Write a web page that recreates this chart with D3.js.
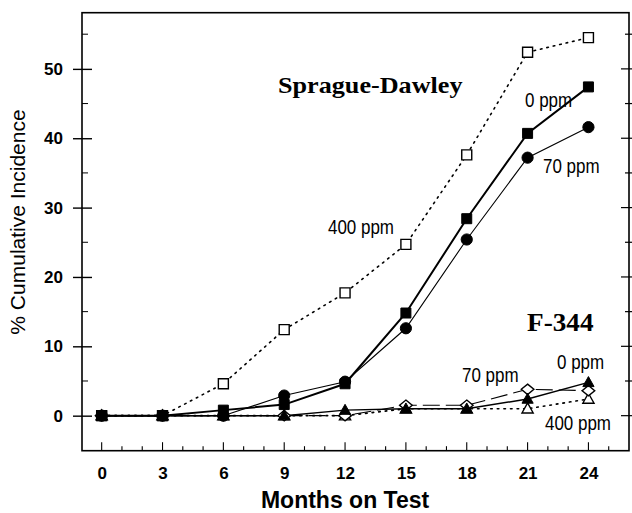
<!DOCTYPE html>
<html><head><meta charset="utf-8">
<script src="https://cdn.jsdelivr.net/npm/d3@7"></script>
<style>html,body{margin:0;padding:0;background:#fff;}svg{display:block;}</style>
</head><body>
<script>
// ---- data ----
const months = [0, 3, 6, 9, 12, 15, 18, 21, 24];
const sd0ppm   = [0, 0, 0.8, 1.6, 4.6, 14.8, 28.4, 40.7, 47.4];
const sd70ppm  = [0, 0, 0, 2.9, 4.9, 12.6, 25.4, 37.2, 41.6];
const sd400ppm = [0, 0, 4.6, 12.4, 17.7, 24.7, 37.6, 52.4, 54.5];
const f0ppm    = [0, 0, 0, 0, 0.8, 1.0, 1.0, 2.4, 4.8];
const f70ppm   = [0, 0, 0, 0, 0, 1.5, 1.5, 3.8, 3.6];
const f400ppm  = [0, 0, 0, 0, 0, 1.0, 1.0, 1.0, 2.4];
const yTickValues = [0, 10, 20, 30, 40, 50];
const xTickValues = [0, 3, 6, 9, 12, 15, 18, 21, 24];

const W = 632, H = 513;
const svg = d3.select("body").append("svg").attr("width", W).attr("height", H);

const L = 82, R = 629, T = 12.7, B = 450.7;
const x = d3.scaleLinear().domain([-0.97, 26]).range([L, R]);
const y = d3.scaleLinear().domain([-5.05, 58.1]).range([B, T]);

// symbol paths
function sym(type, cx, cy) {
  if (type === "square") { const h = 5; return `M${cx-h},${cy-h}h${2*h}v${2*h}h${-2*h}Z`; }
  if (type === "circle") { const r = 5.6; return `M${cx-r},${cy}a${r},${r} 0 1,0 ${2*r},0a${r},${r} 0 1,0 ${-2*r},0Z`; }
  if (type === "triangle") { const w = 5.6, h = 10; return `M${cx},${cy-h*0.58}L${cx+w},${cy+h*0.42}L${cx-w},${cy+h*0.42}Z`; }
  if (type === "diamond") { const w = 6.3, h = 5.2; return `M${cx},${cy-h}L${cx+w},${cy}L${cx},${cy+h}L${cx-w},${cy}Z`; }
}

const series = [
  {values: f400ppm, shape: "triangle", filled: false, dash: "1.6 5", width: 1.6, cap: "round"},
  {values: f70ppm, shape: "diamond", filled: false, dash: "17 6", width: 1.1, cap: "butt"},
  {values: f0ppm, shape: "triangle", filled: true, dash: null, width: 1.5, cap: "butt"},
  {values: sd400ppm, shape: "square", filled: false, dash: "1.6 5", width: 1.6, cap: "round"},
  {values: sd70ppm, shape: "circle", filled: true, dash: null, width: 1.1, cap: "butt"},
  {values: sd0ppm, shape: "square", filled: true, dash: null, width: 2, cap: "butt"}
];

const line = d3.line().x((d, i) => x(months[i])).y(d => y(d));

// lines
series.forEach(s => {
  svg.append("path").attr("d", line(s.values))
    .attr("fill", "none").attr("stroke", "#000")
    .attr("stroke-width", s.width)
    .attr("stroke-dasharray", s.dash)
    .attr("stroke-linecap", s.cap);
});

// markers: open first, then filled
const order = series.filter(s => !s.filled).concat(series.filter(s => s.filled));
order.forEach(s => {
  svg.append("g").selectAll("path").data(s.values).join("path")
    .attr("d", (d, i) => sym(s.shape, x(months[i]), y(d)))
    .attr("fill", s.filled ? "#000" : "#fff")
    .attr("stroke", "#000").attr("stroke-width", s.filled ? 1 : 1.4);
});

// frame
svg.append("rect").attr("x", L).attr("y", T).attr("width", R - L).attr("height", B - T)
  .attr("fill", "none").attr("stroke", "#000").attr("stroke-width", 1.6);

// left axis
const leftAxis = d3.axisLeft(y).tickValues(yTickValues).tickSize(9).tickPadding(10)
  .tickFormat(d3.format("d"));
const gl = svg.append("g").attr("transform", `translate(${L},0)`).call(leftAxis);
gl.select(".domain").remove();
gl.selectAll(".tick line").attr("x2", -9).attr("x1", 10).attr("stroke-width", 1.4);
gl.selectAll(".tick text").attr("font-family", "'Liberation Sans', Arial, sans-serif")
  .attr("font-weight", "bold").attr("font-size", 17).attr("fill", "#000");
// minor left ticks
svg.append("g").selectAll("line").data(d3.range(5, 60, 10)).join("line")
  .attr("x1", L).attr("x2", L + 6).attr("y1", d => y(d)).attr("y2", d => y(d))
  .attr("stroke", "#000").attr("stroke-width", 1);

// right ticks
svg.append("g").selectAll("line").data(d3.range(0, 60, 5)).join("line")
  .attr("x1", d => d % 10 === 0 ? R - 8 : R - 4).attr("x2", R + 3)
  .attr("y1", d => y(d)).attr("y2", d => y(d))
  .attr("stroke", "#000").attr("stroke-width", 1.2);

// bottom axis
const bottomAxis = d3.axisBottom(x).tickValues(xTickValues).tickSize(0).tickPadding(16)
  .tickFormat(d3.format("d"));
const gb = svg.append("g").attr("transform", `translate(0,${B})`).call(bottomAxis);
gb.select(".domain").remove();
gb.selectAll(".tick text").attr("font-family", "'Liberation Sans', Arial, sans-serif")
  .attr("font-weight", "bold").attr("font-size", 17).attr("fill", "#000");
svg.append("g").selectAll("line").data(d3.range(0, 26, 1)).join("line")
  .attr("x1", d => x(d)).attr("x2", d => x(d))
  .attr("y1", B).attr("y2", d => d % 3 === 0 ? B - 8.5 : B - 4.5)
  .attr("stroke", "#000").attr("stroke-width", 1.1);

// axis titles
svg.append("text").attr("transform", "translate(25,222) rotate(-90)")
  .attr("text-anchor", "middle").attr("font-family", "'Liberation Sans', Arial, sans-serif")
  .attr("font-size", 21).attr("fill", "#000").text("% Cumulative Incidence");
svg.append("text").attr("x", x(12)).attr("y", 508)
  .attr("text-anchor", "middle").attr("font-family", "'Liberation Sans', Arial, sans-serif")
  .attr("font-weight", "bold").attr("font-size", 23).attr("fill", "#000").text("Months on Test");

// strain labels
function serifLabel(txt, px, py, size) {
  svg.append("text").attr("transform", `translate(${px},${py}) scale(1.09,1)`)
    .attr("font-family", "'Liberation Serif', 'Times New Roman', serif")
    .attr("font-weight", "bold").attr("font-size", size).attr("fill", "#000").text(txt);
}
serifLabel("Sprague-Dawley", 278, 93, 24);
serifLabel("F-344", 527, 331, 25);

// dose labels
function doseLabel(txt, px, py) {
  svg.append("text").attr("transform", `translate(${px},${py}) scale(0.87,1)`)
    .attr("font-family", "'Liberation Sans', Arial, sans-serif")
    .attr("font-size", 19.5).attr("fill", "#000").text(txt);
}
doseLabel("0 ppm", 525, 107);
doseLabel("70 ppm", 543, 173);
doseLabel("400 ppm", 328, 234);
doseLabel("0 ppm", 557, 369);
doseLabel("70 ppm", 462, 382);
doseLabel("400 ppm", 545, 430);
</script>
</body></html>
